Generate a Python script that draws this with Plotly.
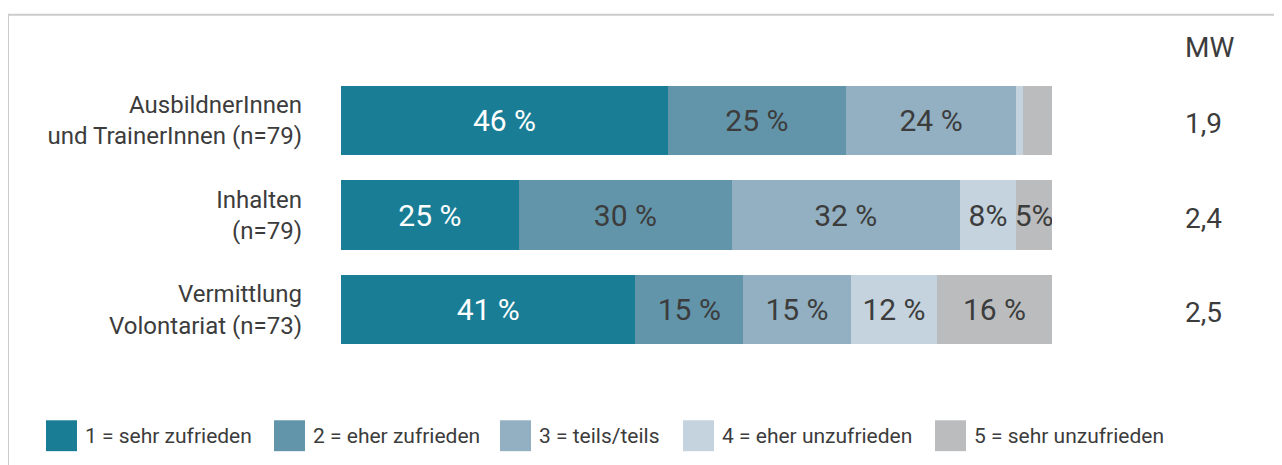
import plotly.graph_objects as go

categories = ["AusbildnerInnen<br>und TrainerInnen (n=79)", "Inhalten<br>(n=79)", "Vermittlung<br>Volontariat (n=73)"]
series_names = ["1 = sehr zufrieden", "2 = eher zufrieden", "3 = teils/teils", "4 = eher unzufrieden", "5 = sehr unzufrieden"]
sehr_zufrieden = [46, 25, 41]
eher_zufrieden = [25, 30, 15]
teils_teils = [24, 32, 15]
eher_unzufrieden = [1, 8, 12]
sehr_unzufrieden = [4, 5, 16]
mw_values = ["1,9", "2,4", "2,5"]
mw_title = "MW"

series_values = [sehr_zufrieden, eher_zufrieden, teils_teils, eher_unzufrieden, sehr_unzufrieden]
colors = ["#1a7d96", "#6294aa", "#92b0c1", "#c4d3dd", "#bbbcbe"]
text_colors = ["#ffffff", "#3c3c3c", "#3c3c3c", "#3c3c3c", "#3c3c3c"]

FONT = "Roboto, sans-serif"
TXT = "#3c3c3c"

OFF = 8  # page body margin
W, H = 1282 - OFF, 465 - OFF
L, R, T, B = 341 - OFF, 1052 - OFF, 72.5 - OFF, 357.5 - OFF


def px(x):
    return (x - OFF - L) / (R - L)


def py(y):
    return (B - (y - OFF)) / (B - T)


def label(v):
    if v < 5:
        return ""
    if v < 10:
        return f"{v}%"
    return f"{v} %"


fig = go.Figure()
for name, vals, col, tcol in zip(series_names, series_values, colors, text_colors):
    fig.add_trace(go.Bar(
        y=categories, x=vals, orientation="h", name=name,
        marker=dict(color=col, line=dict(width=0)),
        text=[label(v) for v in vals], textposition="inside",
        insidetextanchor="middle", textangle=0, constraintext="none",
        textfont=dict(family=FONT, size=30, color=tcol),
        showlegend=False,
    ))

fig.update_layout(
    width=W, height=H, barmode="stack", barnorm="percent", bargap=0.27,
    margin=dict(l=L, r=W - R, t=T, b=H - B, pad=0),
    paper_bgcolor="white", plot_bgcolor="white",
    font=dict(family=FONT, color=TXT),
    xaxis=dict(range=[0, 100.01], visible=False, fixedrange=True),
    yaxis=dict(autorange="reversed", showgrid=False, zeroline=False, showline=False,
               ticks="", tickfont=dict(family=FONT, size=24, color=TXT),
               ticklabelstandoff=38, fixedrange=True),
)

# frame
fig.add_shape(type="rect", xref="paper", yref="paper",
              x0=px(8), x1=px(1300), y0=py(14), y1=py(480),
              line=dict(color="#cccccc", width=2), fillcolor="rgba(0,0,0,0)", layer="below")

# MW column
fig.add_annotation(text=mw_title, xref="paper", yref="paper", x=px(1183), y=py(47),
                   xanchor="left", yanchor="middle", showarrow=False,
                   font=dict(family=FONT, size=28, color=TXT))
for cat, mw in zip(categories, mw_values):
    fig.add_annotation(text=mw, xref="paper", yref="y", x=px(1183), y=cat,
                       xanchor="left", yanchor="middle", showarrow=False, yshift=-3,
                       font=dict(family=FONT, size=28, color=TXT))

# legend
sq_x = [46, 274, 500, 683, 935]
for name, col, sx in zip(series_names, colors, sq_x):
    fig.add_shape(type="rect", xref="paper", yref="paper",
                  x0=px(sx), x1=px(sx + 31), y0=py(452), y1=py(421),
                  line=dict(width=0), fillcolor=col)
    fig.add_annotation(text=name, xref="paper", yref="paper", x=px(sx + 37), y=py(436.5),
                       xanchor="left", yanchor="middle", showarrow=False,
                       font=dict(family=FONT, size=21, color=TXT))

fig.write_html("out.html", config={"displayModeBar": False})
